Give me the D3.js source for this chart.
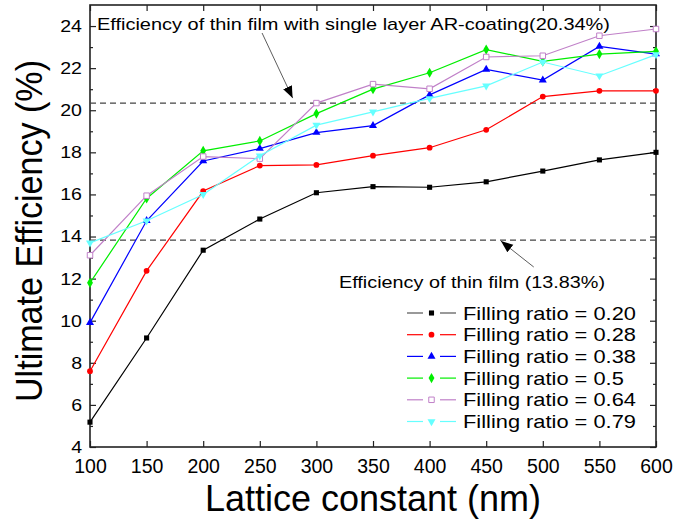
<!DOCTYPE html>
<html>
<head>
<meta charset="utf-8">
<script src="https://cdn.jsdelivr.net/npm/d3@7"></script>
<style>
  body { margin: 0; background: #fff; }
  text { font-family: Arial, "Liberation Sans", sans-serif; fill: #000; }
</style>
</head>
<body>
<div id="container"></div>
<script>
const WIDTH = 676,
      HEIGHT = 519;

const margin = { top: 5, left: 90, right: 20, bottom: 72 };
const width = WIDTH - margin.left - margin.right,
      height = HEIGHT - margin.top - margin.bottom;

// datos
const lattice = [100, 150, 200, 250, 300, 350, 400, 450, 500, 550, 600];
const fr020 = [5.18, 9.18, 13.35, 14.83, 16.08, 16.37, 16.34, 16.6, 17.11, 17.64, 18.0];
const fr028 = [7.6, 12.37, 16.16, 17.37, 17.4, 17.84, 18.22, 19.07, 20.65, 20.92, 20.92];
const fr038 = [9.91, 14.75, 17.59, 18.18, 18.94, 19.27, 20.73, 21.94, 21.43, 23.03, 22.67];
const fr050 = [11.8, 15.81, 18.07, 18.54, 19.84, 21.0, 21.78, 22.88, 22.32, 22.67, 22.8];
const fr064 = [13.11, 15.94, 17.8, 17.7, 20.34, 21.24, 21.02, 22.53, 22.59, 23.54, 23.86];
const fr079 = [13.7, 14.75, 16.0, 17.84, 19.29, 19.92, 20.56, 21.16, 22.29, 21.64, 22.64];

const seriesNames = ["Filling ratio = 0.20", "Filling ratio = 0.28", "Filling ratio = 0.38",
                     "Filling ratio = 0.5", "Filling ratio = 0.64", "Filling ratio = 0.79"];
const refValues = [20.34, 13.83];
const refLabels = ["Efficiency of thin film with single layer AR-coating(20.34%)",
                   "Efficiency of thin film (13.83%)"];
const xTicks = [100, 150, 200, 250, 300, 350, 400, 450, 500, 550, 600];
const yTicks = [4, 6, 8, 10, 12, 14, 16, 18, 20, 22, 24];

const series = [
    { name: seriesNames[0], values: fr020, color: "#000000", legendColor: "#555", symbol: d3.symbolSquare, fill: true, size: 26 },
    { name: seriesNames[1], values: fr028, color: "#ff0000", symbol: d3.symbolCircle, fill: true, size: 26 },
    { name: seriesNames[2], values: fr038, color: "#0000ff", symbol: d3.symbolTriangle, fill: true, size: 28 },
    { name: seriesNames[3], values: fr050, color: "#00ee00", symbol: d3.symbolDiamond, fill: true, size: 30 },
    { name: seriesNames[4], values: fr064, color: "#c080c8", symbol: d3.symbolSquare, fill: false, size: 30 },
    { name: seriesNames[5], values: fr079, color: "#66ffff", symbol: d3.symbolTriangle, fill: true, size: 28, flip: true },
];

// estira el texto horizontalmente como en la figura original
const estirar = (sel, factor) => {
    sel.each(function() {
        const w = this.getComputedTextLength();
        d3.select(this)
            .attr("textLength", w * factor)
            .attr("lengthAdjust", "spacingAndGlyphs");
    });
};

const svg = d3.select('#container')
    .append('svg')
    .attr("width", WIDTH)
    .attr("height", HEIGHT);

svg.append("defs").append("marker")
    .attr("id", "arrow")
    .attr("viewBox", "0 0 10 10")
    .attr("refX", 10).attr("refY", 5)
    .attr("markerWidth", 12).attr("markerHeight", 12)
    .attr("markerUnits", "userSpaceOnUse")
    .attr("orient", "auto")
    .append("path")
    .attr("d", "M0,1 L10,5 L0,9 Z")
    .attr("fill", "#000");

const container = svg.append('g')
    .attr("transform", `translate(${margin.left}, ${margin.top})`);

const xScale = d3.scaleLinear().domain([100, 600]).range([0, width]);
const yScale = d3.scaleLinear().domain([4, 25]).range([height, 0]);

// ejes con ticks hacia adentro
const xAxis = d3.axisBottom(xScale).tickValues(xTicks).tickSize(-6).tickPadding(12);
const yAxis = d3.axisLeft(yScale).tickValues(yTicks).tickSize(-6).tickPadding(8);

const gx = container.append("g")
    .attr("class", "xAxis")
    .attr("transform", `translate(0, ${height})`)
    .call(xAxis);

const gy = container.append("g")
    .attr("class", "yAxis")
    .call(yAxis);

// ticks menores en Y y ticks en los bordes opuestos
container.append("g")
    .call(d3.axisLeft(yScale).tickValues(d3.range(5, 25, 2)).tickSize(-3).tickFormat(""));
container.append("g")
    .attr("transform", `translate(${width}, 0)`)
    .call(d3.axisRight(yScale).tickValues(yTicks).tickSize(-6).tickFormat(""));
container.append("g")
    .attr("transform", `translate(${width}, 0)`)
    .call(d3.axisRight(yScale).tickValues(d3.range(5, 25, 2)).tickSize(-3).tickFormat(""));
container.append("g")
    .call(d3.axisTop(xScale).tickValues(xTicks).tickSize(-6).tickFormat(""));

container.selectAll(".domain").remove();
container.selectAll(".tick line").attr("stroke", "#222").attr("stroke-width", 1.2);
container.selectAll(".tick text")
    .style("font-family", "Arial, 'Liberation Sans', sans-serif");
gx.selectAll(".tick text").style("font-size", "19.5px");
gy.selectAll(".tick text").style("font-size", "17px").call(estirar, 1.15);

container.append("rect")
    .attr("x", 0).attr("y", 0)
    .attr("width", width).attr("height", height)
    .attr("fill", "none")
    .attr("stroke", "#222")
    .attr("stroke-width", 1.6);

// lineas de referencia
container.selectAll(".ref")
    .data(refValues)
    .join("line")
    .attr("class", "ref")
    .attr("x1", 0).attr("x2", width)
    .attr("y1", (d) => yScale(d)).attr("y2", (d) => yScale(d))
    .attr("stroke", "#444")
    .attr("stroke-width", 1.2)
    .attr("stroke-dasharray", "6,4");

const line = d3.line()
    .x((d, i) => xScale(lattice[i]))
    .y((d) => yScale(d));

const grupos = container.selectAll(".serie")
    .data(series)
    .join("g")
    .attr("class", "serie");

grupos.append("path")
    .attr("d", (s) => line(s.values))
    .attr("fill", "none")
    .attr("stroke", (s) => s.color)
    .attr("stroke-width", 1.2);

grupos.each(function(s) {
    const sym = d3.symbol().type(s.symbol).size(s.size);
    d3.select(this).selectAll(".dot")
        .data(s.values)
        .join("path")
        .attr("class", "dot")
        .attr("d", sym)
        .attr("transform", (d, i) => `translate(${xScale(lattice[i])}, ${yScale(d)})${s.flip ? " rotate(180)" : ""}`)
        .attr("fill", s.fill ? s.color : "#fff")
        .attr("stroke", s.color)
        .attr("stroke-width", s.fill ? 0 : 1);
});

// anotaciones
container.append("text")
    .attr("x", 7).attr("y", 24.5)
    .style("font-size", "17px")
    .attr("textLength", 513)
    .attr("lengthAdjust", "spacingAndGlyphs")
    .text(refLabels[0]);

container.append("line")
    .attr("x1", xScale(252)).attr("y1", 28)
    .attr("x2", xScale(279)).attr("y2", yScale(refValues[0]) - 5)
    .attr("stroke", "#333").attr("stroke-width", 0.8)
    .attr("marker-end", "url(#arrow)");

container.append("text")
    .attr("x", 249).attr("y", 283)
    .style("font-size", "17px")
    .attr("textLength", 266)
    .attr("lengthAdjust", "spacingAndGlyphs")
    .text(refLabels[1]);

container.append("line")
    .attr("x1", xScale(492)).attr("y1", 262)
    .attr("x2", xScale(463)).attr("y2", yScale(refValues[1]) + 1)
    .attr("stroke", "#333").attr("stroke-width", 0.8)
    .attr("marker-end", "url(#arrow)");

// leyenda
const legend = container.append("g")
    .attr("transform", `translate(317, 308)`);

const items = legend.selectAll(".item")
    .data(series)
    .join("g")
    .attr("class", "item")
    .attr("transform", (d, i) => `translate(0, ${i * 21.7})`);

items.append("line").attr("x1", 0).attr("x2", 16).attr("stroke", (s) => s.legendColor || s.color).attr("stroke-width", 1.2);
items.append("line").attr("x1", 33).attr("x2", 49).attr("stroke", (s) => s.legendColor || s.color).attr("stroke-width", 1.2);
items.append("path")
    .attr("d", (s) => d3.symbol().type(s.symbol).size(s.size)())
    .attr("transform", (s) => `translate(24.5, 0)${s.flip ? " rotate(180)" : ""}`)
    .attr("fill", (s) => s.fill ? s.color : "#fff")
    .attr("stroke", (s) => s.color)
    .attr("stroke-width", (s) => s.fill ? 0 : 1);
items.append("text")
    .attr("x", 56).attr("y", 6.6)
    .style("font-size", "18.5px")
    .text((s) => s.name)
    .call(estirar, 1.18);

// titulos de ejes
svg.append("text")
    .attr("x", margin.left + width / 2).attr("y", 511)
    .attr("text-anchor", "middle")
    .style("font-size", "36px")
    .text("Lattice constant (nm)");

svg.append("text")
    .attr("transform", `translate(42, 231) rotate(-90)`)
    .attr("text-anchor", "middle")
    .style("font-size", "36px")
    .attr("textLength", 342)
    .attr("lengthAdjust", "spacingAndGlyphs")
    .text("Ultimate Efficiency (%)");
</script>
</body>
</html>
